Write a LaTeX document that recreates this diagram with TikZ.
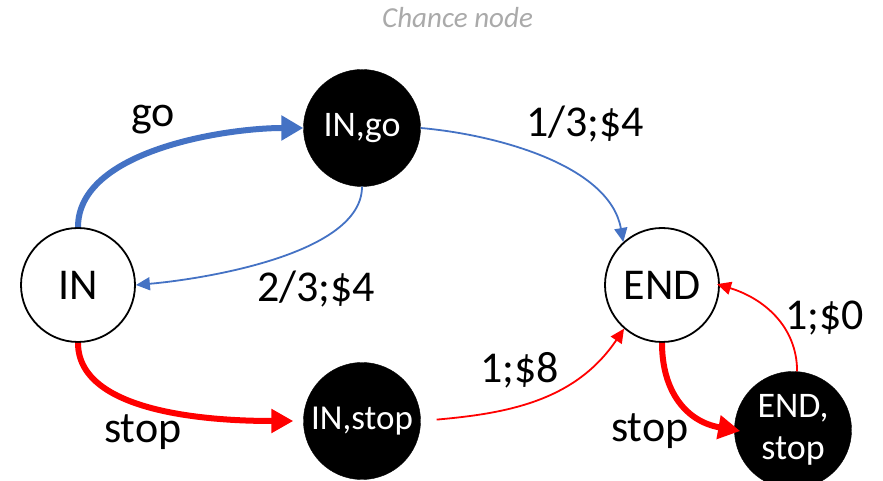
\documentclass[tikz,border=0pt]{standalone}
\usepackage{fontspec}
\setmainfont{Carlito}
\usetikzlibrary{arrows.meta}
\definecolor{oblue}{RGB}{68,114,196}
\definecolor{ored}{RGB}{255,0,0}
\definecolor{tgray}{RGB}{170,170,170}
\begin{document}
\begin{tikzpicture}[x=1pt,y=1pt,
  state/.style={circle,draw=black,line width=1.8pt,fill=white,minimum size=114pt,inner sep=0pt,font=\fontsize{44}{48}\selectfont},
  chance/.style={circle,fill=black,draw=black,minimum size=117pt,inner sep=0pt,text=white,font=\fontsize{36}{42}\selectfont},
  lbl/.style={anchor=base west,inner sep=0pt,font=\fontsize{44}{48}\selectfont},
  thickb/.style={draw=oblue,line width=6pt,-{Triangle[length=22pt,width=24pt]}},
  thinb/.style={draw=oblue,line width=1.8pt,-{Triangle[length=14pt,width=13pt]}},
  thickr/.style={draw=ored,line width=6pt,-{Triangle[length=22pt,width=23pt]}},
  thinr/.style={draw=ored,line width=1.8pt,-{Triangle[length=14pt,width=13pt]}}
]
\useasboundingbox (0,0) rectangle (883,481);
\node[anchor=base west,inner sep=0pt,font=\itshape\fontsize{29}{32}\selectfont,text=tgray] (title) at (382,453) {Chance node};
\node[state] (IN) at (78,196) {IN};
\node[chance] (INgo) at (362,353) {IN,go};
\node[state] (END) at (662,196) {END};
\node[chance,font=\fontsize{35}{40}\selectfont] (INstop) at (362,60) {IN,stop};
\node[chance,align=center] (ENDstop) at (793,51) {END,\\stop};

\draw[thickb] (IN.north) to[out=90,in=180,looseness=0.8] (INgo.west);
\draw[thinb] (INgo.south) to[out=-90,in=5,looseness=0.7] (IN.east);
\draw[thinb] (INgo.east) to[out=-5,in=100,looseness=0.85] (END.132);
\draw[thickr,shorten >=10pt] (IN.south) to[out=-90,in=180,looseness=0.8] (INstop.west);
\draw[thinr,shorten <=16pt] (INstop.east) to[out=5,in=236] (END.229);
\draw[thickr,shorten >=-6pt] (END.south) to[out=-90,in=170,looseness=1.1] (ENDstop.west);
\draw[thinr,shorten >=-3pt] (ENDstop.86) to[out=90,in=-17] (END.east);

\node[lbl] (lgo) at (131,354) {go};
\node[lbl] (l23) at (257,179) {2/3;\$4};
\node[lbl] (l13) at (526,344) {1/3;\$4};
\node[lbl] (lstop1) at (104,38) {stop};
\node[lbl] (l18) at (480,98) {1;\$8};
\node[lbl] (lstop2) at (611,39) {stop};
\node[lbl] (l10) at (785,151) {1;\$0};
\end{tikzpicture}
\end{document}
